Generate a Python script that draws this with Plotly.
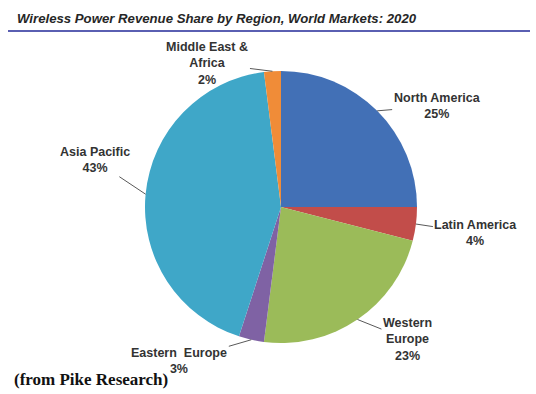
import math
import plotly.graph_objects as go

# ---- data ----
regions = ["North America", "Latin America", "Western Europe",
           "Eastern Europe", "Asia Pacific", "Middle East & Africa"]
display_names = ["North America", "Latin America", "Western<br>Europe",
                 "Eastern  Europe", "Asia Pacific", "Middle East &<br>Africa"]
shares = [25, 4, 23, 3, 43, 2]
colors = ["#4270b6", "#c24d4a", "#9bbb59", "#7f62a4", "#3fa7c8", "#f08c38"]

W, H = 536, 394
cx, cy, R = 281, 207, 136  # pie centre/radius in pixels

dom_x = [(cx - R) / W, (cx + R) / W]
dom_y = [1 - (cy + R) / H, 1 - (cy - R) / H]

fig = go.Figure(go.Pie(
    labels=regions, values=shares, sort=False, direction="clockwise",
    rotation=0, textinfo="none", hoverinfo="label+percent",
    marker=dict(colors=colors, line=dict(width=0)),
    domain=dict(x=dom_x, y=dom_y), showlegend=False,
))

# label offsets (pixels from slice edge point)
offsets = [(60, -5), (60, 9), (50, 20), (-72, 21), (-51, -34), (-65, -8)]

annotations = []
total = sum(shares)
cum = 0
for name, v, (ax, ay) in zip(display_names, shares, offsets):
    mid = (cum + v / 2) / total * 2 * math.pi
    cum += v
    px = cx + R * math.sin(mid)
    py = cy - R * math.cos(mid)
    annotations.append(dict(
        x=px / W, y=1 - py / H, xref="paper", yref="paper",
        text=f"<b>{name}<br>{v}%</b>", showarrow=True, arrowhead=0,
        arrowwidth=1, arrowcolor="#595959", ax=ax, ay=ay, standoff=0,
        font=dict(family="Liberation Sans, Arial", size=12.5, color="#333333"),
        align="center",
    ))

annotations.append(dict(
    x=15 / W, y=1 - 18 / H, xref="paper", yref="paper", xanchor="left",
    yanchor="middle", showarrow=False,
    text="<b><i>Wireless Power Revenue Share by Region, World Markets: 2020</i></b>",
    font=dict(family="Liberation Sans, Arial", size=13.2, color="#262626"),
))
annotations.append(dict(
    x=12 / W, y=1 - 379 / H, xref="paper", yref="paper", xanchor="left",
    yanchor="middle", showarrow=False, text="<b>(from Pike Research)</b>",
    font=dict(family="Liberation Serif, Times New Roman", size=17, color="#111111"),
))

fig.update_layout(
    width=W, height=H, margin=dict(l=0, r=0, t=0, b=0),
    paper_bgcolor="white", plot_bgcolor="white",
    annotations=annotations,
    shapes=[dict(type="line", xref="paper", yref="paper",
                 x0=8 / W, x1=530 / W, y0=1 - 31 / H, y1=1 - 31 / H,
                 line=dict(color="#5a5fb2", width=2))],
)

fig.write_html("out.html", config={"displayModeBar": False},
               post_script="document.body.style.margin='0';")
